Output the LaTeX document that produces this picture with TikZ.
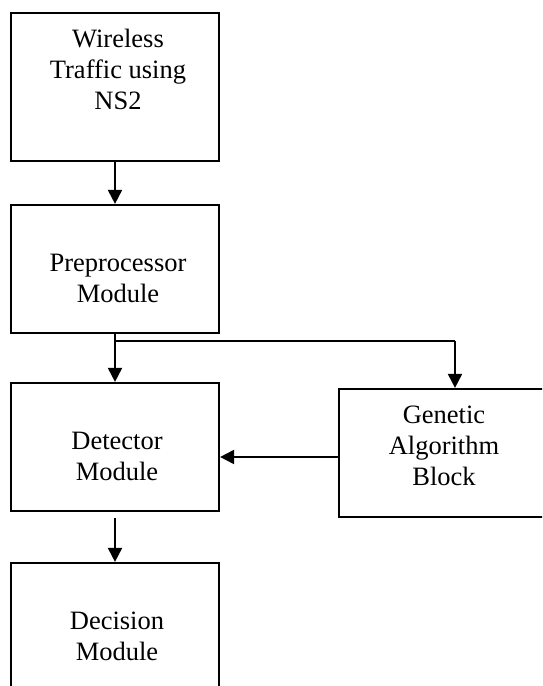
\documentclass[tikz,border=0pt]{standalone}
\usepackage{fontspec}
\setmainfont{Liberation Serif}
\usetikzlibrary{arrows.meta}

\begin{document}
\begin{tikzpicture}[x=1pt, y=-1pt,
		blk/.style={draw, line width=2.2pt, minimum width=208pt, inner sep=0pt},
		blktext/.style={align=center, font=\fontsize{26.5}{31}\selectfont, anchor=base},
		arr/.style={line width=2pt, -{Triangle[width=14pt,length=14pt]}}]
		%%%%% START %%%%%
		
		\useasboundingbox (0,0) rectangle (542,686);
		\clip (0,0) rectangle (542,686);
		
		\node[blk, minimum height=148pt] (wireless) at (115,87) {};
		\node[blktext] (wirelesstext) at (118,109) {Wireless\\Traffic using\\NS2};
		
		\node[blk, minimum height=128pt] (prep) at (115,269) {};
		\node[blktext] (preptext) at (118,302) {Preprocessor\\Module};
		
		\node[blk, minimum height=128pt] (detector) at (115,447) {};
		\node[blktext] (detectortext) at (117,480) {Detector\\Module};
		
		\node[blk, minimum width=212pt, minimum height=128pt] (genetic) at (445,453) {};
		\node[blktext] (genetictext) at (444,485) {Genetic\\Algorithm\\Block};
		
		\node[blk, minimum height=140pt] (decision) at (115,633) {};
		\node[blktext] (decisiontext) at (117,660) {Decision\\Module};
		
		\draw[arr] (wireless.south) -- (prep.north);
		
		\coordinate (branch) at (115,341);
		\coordinate (gatop) at (455,341);
		\draw[arr] (prep.south) -- (detector.north);
		\draw[line width=1.3pt] (branch) -- (gatop);
		\draw[arr] (gatop) -- (gatop |- genetic.north);
		
		\draw[arr] ([yshift=-4pt]genetic.west) -- ([yshift=-4pt]genetic.west -| detector.east);
		\draw[arr, shorten <=6pt] (detector.south) -- (decision.north);
		
		%%%%% END %%%%%
\end{tikzpicture}
\end{document}
